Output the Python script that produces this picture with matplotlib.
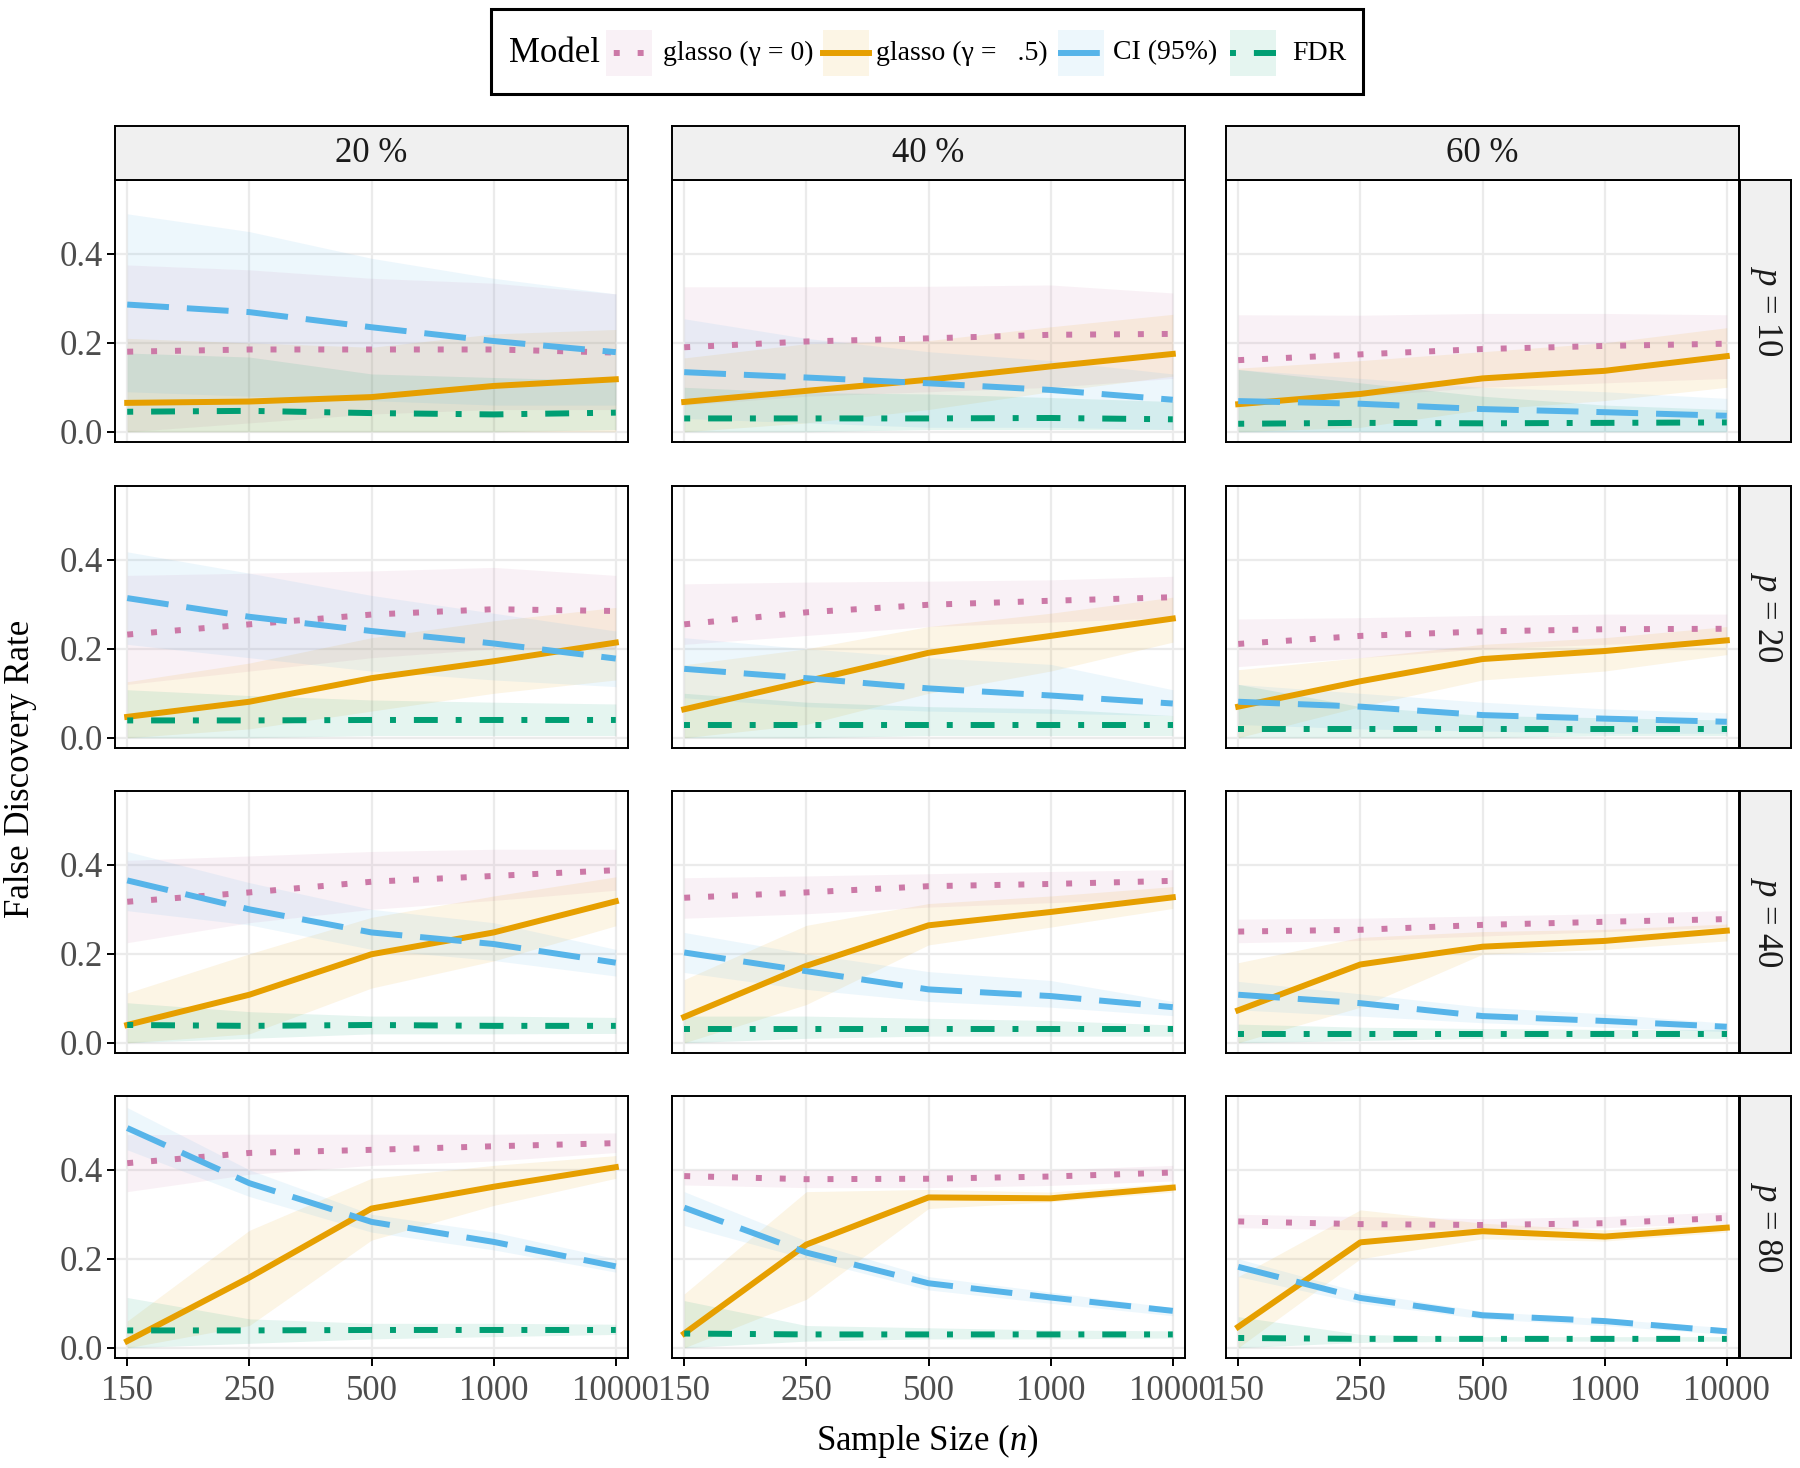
import matplotlib
matplotlib.use("Agg")
import matplotlib.pyplot as plt
from matplotlib.patches import Rectangle
from matplotlib.lines import Line2D

plt.rcParams['font.family'] = ['Liberation Serif', 'DejaVu Serif']
plt.rcParams['mathtext.fontset'] = 'custom'
plt.rcParams['mathtext.rm'] = 'Liberation Serif'
plt.rcParams['mathtext.it'] = 'Liberation Serif:italic'

# data: rows = p (10, 20, 40, 80), cols = 20 %, 40 %, 60 %, 5 sample sizes each
sample_sizes = ['150', '250', '500', '1000', '10000']
col_labels = ['20 %', '40 %', '60 %']
row_labels = ['$p$ = 10', '$p$ = 20', '$p$ = 40', '$p$ = 80']
y_ticks = [0.0, 0.2, 0.4]

g0_mean = [
    [[0.18, 0.185, 0.185, 0.185, 0.178], [0.19, 0.203, 0.21, 0.218, 0.22], [0.161, 0.174, 0.186, 0.193, 0.198]],
    [[0.232, 0.255, 0.277, 0.289, 0.285], [0.255, 0.282, 0.299, 0.308, 0.316], [0.211, 0.229, 0.239, 0.244, 0.245]],
    [[0.317, 0.338, 0.362, 0.375, 0.388], [0.326, 0.338, 0.352, 0.357, 0.364], [0.25, 0.254, 0.265, 0.272, 0.278]],
    [[0.415, 0.438, 0.445, 0.453, 0.46], [0.386, 0.379, 0.38, 0.385, 0.394], [0.284, 0.278, 0.276, 0.28, 0.292]],
]
g0_lo = [
    [[0.0, 0.02, 0.04, 0.05, 0.05], [0.06, 0.08, 0.09, 0.1, 0.12], [0.06, 0.08, 0.1, 0.11, 0.12]],
    [[0.12, 0.15, 0.18, 0.2, 0.2], [0.21, 0.23, 0.25, 0.26, 0.27], [0.16, 0.18, 0.2, 0.21, 0.22]],
    [[0.225, 0.27, 0.3, 0.32, 0.343], [0.28, 0.29, 0.305, 0.315, 0.325], [0.225, 0.23, 0.24, 0.25, 0.26]],
    [[0.351, 0.39, 0.41, 0.42, 0.439], [0.366, 0.36, 0.36, 0.365, 0.375], [0.27, 0.265, 0.265, 0.27, 0.28]],
]
g0_hi = [
    [[0.375, 0.364, 0.345, 0.334, 0.31], [0.326, 0.326, 0.327, 0.33, 0.312], [0.263, 0.262, 0.266, 0.266, 0.263]],
    [[0.365, 0.37, 0.375, 0.383, 0.365], [0.346, 0.35, 0.352, 0.355, 0.363], [0.267, 0.27, 0.275, 0.278, 0.278]],
    [[0.41, 0.42, 0.43, 0.435, 0.435], [0.371, 0.375, 0.38, 0.385, 0.389], [0.278, 0.28, 0.285, 0.29, 0.297]],
    [[0.479, 0.48, 0.48, 0.48, 0.483], [0.4, 0.4, 0.4, 0.4, 0.41], [0.3, 0.295, 0.29, 0.295, 0.305]],
]

g5_mean = [
    [[0.065, 0.068, 0.078, 0.103, 0.118], [0.067, 0.092, 0.117, 0.147, 0.175], [0.062, 0.085, 0.12, 0.137, 0.17]],
    [[0.047, 0.081, 0.134, 0.172, 0.214], [0.064, 0.127, 0.191, 0.229, 0.268], [0.07, 0.127, 0.177, 0.195, 0.219]],
    [[0.04, 0.108, 0.199, 0.248, 0.318], [0.058, 0.173, 0.264, 0.294, 0.327], [0.073, 0.176, 0.216, 0.229, 0.252]],
    [[0.015, 0.158, 0.313, 0.362, 0.406], [0.032, 0.232, 0.338, 0.336, 0.36], [0.047, 0.237, 0.262, 0.25, 0.27]],
]
g5_lo = [
    [[0.0, 0.0, 0.0, 0.0, 0.0], [0.0, 0.02, 0.05, 0.09, 0.125], [0.0, 0.01, 0.05, 0.07, 0.1]],
    [[0.0, 0.02, 0.06, 0.1, 0.13], [0.0, 0.03, 0.1, 0.15, 0.215], [0.0, 0.07, 0.13, 0.15, 0.187]],
    [[0.0, 0.02, 0.123, 0.184, 0.263], [0.0, 0.086, 0.22, 0.26, 0.302], [0.0, 0.08, 0.199, 0.21, 0.229]],
    [[0.0, 0.05, 0.242, 0.32, 0.381], [0.0, 0.109, 0.313, 0.328, 0.35], [0.0, 0.2, 0.245, 0.24, 0.26]],
]
g5_hi = [
    [[0.21, 0.2, 0.19, 0.22, 0.23], [0.166, 0.198, 0.205, 0.236, 0.264], [0.143, 0.16, 0.18, 0.2, 0.234]],
    [[0.126, 0.168, 0.225, 0.263, 0.293], [0.164, 0.2, 0.25, 0.28, 0.316], [0.153, 0.18, 0.21, 0.225, 0.25]],
    [[0.112, 0.2, 0.282, 0.33, 0.373], [0.142, 0.264, 0.313, 0.33, 0.351], [0.18, 0.237, 0.25, 0.255, 0.267]],
    [[0.06, 0.264, 0.381, 0.41, 0.432], [0.121, 0.351, 0.356, 0.35, 0.37], [0.16, 0.31, 0.28, 0.265, 0.28]],
]

ci_mean = [
    [[0.286, 0.269, 0.235, 0.204, 0.179], [0.134, 0.122, 0.109, 0.094, 0.072], [0.069, 0.063, 0.051, 0.044, 0.036]],
    [[0.314, 0.272, 0.24, 0.212, 0.178], [0.155, 0.134, 0.111, 0.095, 0.077], [0.081, 0.07, 0.051, 0.043, 0.036]],
    [[0.365, 0.3, 0.248, 0.222, 0.18], [0.203, 0.161, 0.12, 0.105, 0.08], [0.108, 0.089, 0.06, 0.049, 0.036]],
    [[0.494, 0.37, 0.283, 0.238, 0.183], [0.315, 0.214, 0.145, 0.113, 0.083], [0.182, 0.112, 0.073, 0.06, 0.037]],
]
ci_lo = [
    [[0.09, 0.08, 0.07, 0.06, 0.06], [0.03, 0.02, 0.01, 0.01, 0.005], [0.0, 0.0, 0.0, 0.0, 0.0]],
    [[0.21, 0.18, 0.15, 0.13, 0.115], [0.09, 0.07, 0.06, 0.055, 0.05], [0.03, 0.02, 0.015, 0.01, 0.01]],
    [[0.297, 0.265, 0.21, 0.185, 0.15], [0.158, 0.12, 0.093, 0.08, 0.061], [0.074, 0.06, 0.045, 0.035, 0.025]],
    [[0.445, 0.34, 0.26, 0.22, 0.17], [0.275, 0.2, 0.13, 0.1, 0.072], [0.16, 0.1, 0.065, 0.05, 0.03]],
]
ci_hi = [
    [[0.49, 0.45, 0.39, 0.345, 0.31], [0.254, 0.21, 0.18, 0.16, 0.13], [0.14, 0.12, 0.1, 0.09, 0.075]],
    [[0.418, 0.37, 0.32, 0.28, 0.24], [0.225, 0.2, 0.18, 0.165, 0.108], [0.12, 0.1, 0.08, 0.065, 0.056]],
    [[0.43, 0.36, 0.3, 0.27, 0.21], [0.248, 0.2, 0.16, 0.14, 0.093], [0.138, 0.11, 0.08, 0.065, 0.044]],
    [[0.54, 0.4, 0.3, 0.26, 0.2], [0.351, 0.24, 0.16, 0.125, 0.09], [0.2, 0.125, 0.082, 0.065, 0.045]],
]

fdr_mean = [
    [[0.045, 0.047, 0.042, 0.039, 0.043], [0.03, 0.03, 0.03, 0.031, 0.028], [0.018, 0.02, 0.019, 0.02, 0.021]],
    [[0.039, 0.039, 0.04, 0.04, 0.04], [0.028, 0.028, 0.028, 0.028, 0.028], [0.02, 0.02, 0.02, 0.02, 0.02]],
    [[0.04, 0.038, 0.04, 0.038, 0.038], [0.03, 0.03, 0.03, 0.03, 0.03], [0.02, 0.02, 0.02, 0.02, 0.02]],
    [[0.039, 0.039, 0.04, 0.04, 0.04], [0.032, 0.03, 0.03, 0.03, 0.03], [0.022, 0.02, 0.02, 0.02, 0.02]],
]
fdr_lo = [
    [[0.0, 0.0, 0.0, 0.0, 0.005], [0.0, 0.0, 0.005, 0.005, 0.005], [0.0, 0.0, 0.0, 0.0, 0.0]],
    [[0.0, 0.0, 0.005, 0.005, 0.005], [0.0, 0.0, 0.005, 0.005, 0.005], [0.0, 0.0, 0.0, 0.005, 0.005]],
    [[0.0, 0.01, 0.02, 0.02, 0.021], [0.0, 0.01, 0.015, 0.015, 0.015], [0.0, 0.005, 0.01, 0.01, 0.01]],
    [[0.0, 0.01, 0.02, 0.025, 0.03], [0.0, 0.015, 0.02, 0.02, 0.022], [0.0, 0.012, 0.015, 0.015, 0.015]],
]
fdr_hi = [
    [[0.177, 0.168, 0.13, 0.122, 0.115], [0.1, 0.088, 0.085, 0.077, 0.068], [0.14, 0.11, 0.08, 0.06, 0.05]],
    [[0.108, 0.095, 0.085, 0.08, 0.076], [0.1, 0.08, 0.07, 0.065, 0.05], [0.12, 0.07, 0.05, 0.045, 0.04]],
    [[0.09, 0.07, 0.06, 0.06, 0.057], [0.06, 0.06, 0.055, 0.05, 0.04], [0.042, 0.035, 0.032, 0.03, 0.03]],
    [[0.113, 0.065, 0.055, 0.055, 0.053], [0.106, 0.05, 0.045, 0.04, 0.038], [0.07, 0.03, 0.025, 0.025, 0.025]],
]

series = [
    ('glasso (γ = 0)', '#CC79A7', (0, (1, 3)), g0_mean, g0_lo, g0_hi),
    ('glasso (γ =   .5)', '#E69F00', '-', g5_mean, g5_lo, g5_hi),
    ('CI (95%)', '#56B4E9', (0, (7, 3)), ci_mean, ci_lo, ci_hi),
    ('FDR', '#009E73', (0, (1, 3, 4, 3)), fdr_mean, fdr_lo, fdr_hi),
]
# key line styles, shifted so the pattern sits centred in the little key box
key_styles = [(2.7, (1, 3)), '-', (0, (7, 3)), (0, (1, 3, 4, 3))]

W, H = 1800, 1468
LW = 4.3
FS = 25
TICK_FS = 25
LEG_FS = 20
fig = plt.figure(figsize=(W / 100, H / 100), dpi=100)

col_x = [115, 672, 1226]
row_y = [180, 486, 791, 1096]
pw, ph = 513, 262
x = [1, 2, 3, 4, 5]


def fig_rect(left, top, w, h):
    return [left / W, 1 - (top + h) / H, w / W, h / H]


def strip(rect, label, rot=0):
    s = fig.add_axes(rect)
    s.set_facecolor('#F0F0F0')
    s.set_xticks([])
    s.set_yticks([])
    for sp in s.spines.values():
        sp.set_linewidth(1.4)
    s.text(0.5, 0.5, label, ha='center', va='center', rotation=rot,
           fontsize=FS, transform=s.transAxes, color='#1A1A1A')


for r in range(4):
    for c in range(3):
        ax = fig.add_axes(fig_rect(col_x[c], row_y[r], pw, ph))
        ax.set_xlim(0.9, 5.1)
        ax.set_ylim(-0.023, 0.566)
        ax.set_xticks(x)
        ax.set_yticks(y_ticks)
        ax.grid(True, color='#EBEBEB', lw=1.6)
        ax.set_axisbelow(True)
        for sp in ax.spines.values():
            sp.set_linewidth(1.4)
        for name, col, ls, m, lo, hi in series:
            ax.fill_between(x, lo[r][c], hi[r][c], color=col, alpha=0.1, lw=0)
        for name, col, ls, m, lo, hi in series:
            ax.plot(x, m[r][c], color=col, ls=ls, lw=LW)
        ax.tick_params(length=5.5, width=1.4, labelsize=TICK_FS, labelcolor='#4D4D4D')
        ax.tick_params(axis='x', pad=7)
        ax.tick_params(axis='y', pad=3)
        if r == 3:
            ax.set_xticklabels(sample_sizes)
        else:
            ax.tick_params(axis='x', length=0, labelbottom=False)
        if c == 0:
            ax.set_yticklabels(['0.0', '0.2', '0.4'])
        else:
            ax.tick_params(axis='y', length=0, labelleft=False)

for c in range(3):
    strip(fig_rect(col_x[c], 126, pw, 54), col_labels[c])
for r in range(4):
    strip(fig_rect(1740, row_y[r], 51, ph), row_labels[r], rot=-90)

fig.text(21 / W, 1 - 769 / H, 'False Discovery Rate', rotation=90, ha='center', va='center', fontsize=FS)
fig.text(927 / W, 1 - 1441 / H, 'Sample Size ($n$)', ha='center', va='center', fontsize=FS)

# legend, laid out by hand: frame, title, then key box + line + label for each model
fig.patches.append(Rectangle((491 / W, 1 - 94 / H), 872 / W, 85 / H, transform=fig.transFigure,
                             fill=False, ec='black', lw=2.2))
leg_y = 53
fig.text(509 / W, 1 - leg_y / H, 'Model', ha='left', va='center', fontsize=FS)
key_left = [606, 823, 1058, 1230]
text_left = [663, 876, 1113, 1292]
key_w, key_h = 46, 46
for i, (name, col, ls, m, lo, hi) in enumerate(series):
    kx = key_left[i]
    fig.patches.append(Rectangle((kx / W, 1 - (leg_y + key_h / 2) / H), key_w / W, key_h / H,
                                 transform=fig.transFigure, fc=col, alpha=0.1, lw=0))
    fig.lines.append(Line2D([kx / W, (kx + key_w) / W], [1 - leg_y / H, 1 - leg_y / H],
                            transform=fig.transFigure, color=col, ls=key_styles[i], lw=LW))
    fig.text(text_left[i] / W, 1 - leg_y / H, name, ha='left', va='center', fontsize=LEG_FS)

fig.savefig('out.png', dpi=100)
